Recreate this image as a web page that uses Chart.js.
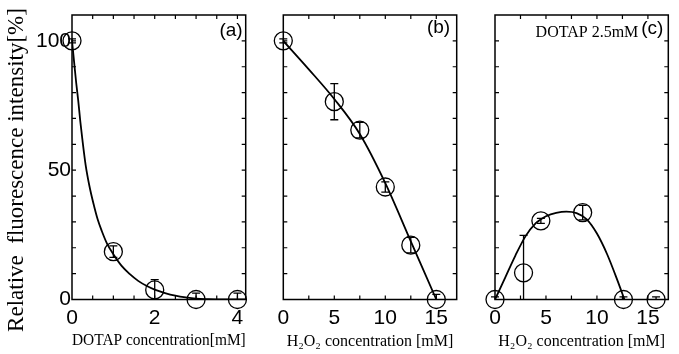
<!DOCTYPE html>
<html>
<head>
<meta charset="utf-8">
<script src="https://cdn.jsdelivr.net/npm/chart.js@4.4.1/dist/chart.umd.min.js"></script>
<style>
  html, body { margin: 0; padding: 0; background: #fff; }
  #wrap { position: relative; width: 679px; height: 354px; overflow: hidden; }
  canvas { position: absolute; top: 0; }
</style>
</head>
<body>
<div id="wrap">
  <canvas id="chartA" width="250" height="354" style="left:0"></canvas>
  <canvas id="chartB" width="210" height="354" style="left:250px"></canvas>
  <canvas id="chartC" width="219" height="354" style="left:460px"></canvas>
</div>
<script>
// (a) DOTAP
const dotapConc = [0, 1, 2, 3, 4];
const dotapIntensity = [100, 18.5, 3.7, 0, 0];
const dotapError = [0.8, 2.2, 4, 2.5, 2.5];
const dotapFitX = [0, 0.05, 0.1, 0.15, 0.2, 0.25, 0.33, 0.42, 0.52, 0.62, 0.72, 0.85, 1.0, 1.2, 1.4, 1.6, 1.8, 2.0, 2.25, 2.5, 2.75, 3.0, 3.3, 3.6, 4.2];
const dotapFitY = [100, 92, 84, 77, 69, 62, 52, 44, 37, 31, 26.5, 21.5, 17.5, 13, 9.8, 7.2, 5.3, 3.8, 2.5, 1.5, 0.8, 0.3, 0.1, 0, 0];

// (b) H2O2
const h2o2Conc = [0, 5, 7.5, 10, 12.5, 15];
const h2o2Intensity = [100, 76.5, 65.5, 43.5, 21, 0];
const h2o2Error = [0.8, 7, 3, 2, 3, 2];
const h2o2FitX = [0, 2.5, 5, 7.5, 10, 12.5, 15];
const h2o2FitY = [100, 89, 77.5, 64, 45, 22.5, 0];

// (c) H2O2 with DOTAP 2.5mM
const mixConc = [0, 2.8, 4.5, 8.6, 12.6, 15.8];
const mixIntensity = [0, 10.3, 30.4, 33.6, 0, 0];
const mixError = [1, 14.5, 1, 2.8, 1, 1];
const mixFitX = [0, 1, 2, 3, 4, 4.5, 5, 6, 7, 8, 9, 10, 11, 12, 12.7];
const mixFitY = [0, 8.5, 17, 24.5, 29.5, 31, 32.2, 33.5, 34, 33.4, 31, 25.5, 17.5, 7.5, 0];

const yTicks = [0, 50, 100];
const yTitle = "Relative  fluorescence intensity[%]";

const SANS = "'Liberation Sans', Arial, sans-serif";
const SERIF = "'Liberation Serif', 'Times New Roman', serif";

const toPoints = (xs, ys) => xs.map((x, i) => ({ x: x, y: ys[i] }));

// box, inward ticks, error bars, corner texts
const framePlugin = {
  id: "frame",
  afterDatasetsDraw(chart, args, opts) {
    const ctx = chart.ctx;
    const area = chart.chartArea;
    const xs = chart.scales.x, ys = chart.scales.y;
    ctx.save();
    ctx.strokeStyle = "#000";
    ctx.fillStyle = "#000";

    // error bars
    ctx.lineWidth = 1.3;
    chart.data.datasets.forEach((ds, i) => {
      if (!ds.errors) return;
      const meta = chart.getDatasetMeta(i);
      meta.data.forEach((pt, j) => {
        const v = ds.data[j].y, e = ds.errors[j];
        const top = ys.getPixelForValue(v + e);
        let bot = ys.getPixelForValue(v - e);
        const clipped = bot > area.bottom;
        if (clipped) bot = area.bottom;
        ctx.beginPath();
        ctx.moveTo(pt.x, top); ctx.lineTo(pt.x, bot);
        ctx.moveTo(pt.x - 4, top); ctx.lineTo(pt.x + 4, top);
        if (!clipped) { ctx.moveTo(pt.x - 4, bot); ctx.lineTo(pt.x + 4, bot); }
        ctx.stroke();
      });
    });

    // frame
    ctx.lineWidth = 1.5;
    ctx.strokeRect(area.left, area.top, area.right - area.left, area.bottom - area.top);

    // inward ticks
    ctx.lineWidth = 1.2;
    ctx.beginPath();
    xs.ticks.forEach(t => {
      const px = xs.getPixelForValue(t.value);
      if (px <= area.left + 1 || px >= area.right - 1) return;
      ctx.moveTo(px, area.bottom); ctx.lineTo(px, area.bottom - 4);
      ctx.moveTo(px, area.top); ctx.lineTo(px, area.top + 4);
    });
    ys.ticks.forEach(t => {
      const py = ys.getPixelForValue(t.value);
      if (py >= area.bottom - 1 || py <= area.top + 1) return;
      ctx.moveTo(area.left, py); ctx.lineTo(area.left + 4, py);
      ctx.moveTo(area.right, py); ctx.lineTo(area.right - 4, py);
    });
    ctx.stroke();

    // corner texts
    (opts.texts || []).forEach(t => {
      ctx.font = t.font;
      ctx.textAlign = "right";
      ctx.textBaseline = "alphabetic";
      ctx.fillText(t.text, area.right - t.dx, t.y);
    });

    // rotated y title
    if (opts.yTitle) {
      ctx.translate(23, 170);
      ctx.rotate(-Math.PI / 2);
      ctx.font = "23px " + SERIF;
      ctx.textAlign = "center";
      ctx.textBaseline = "alphabetic";
      ctx.fillText(opts.yTitle, 0, 0);
    }
    ctx.restore();
  }
};

function makePanel(id, cfg) {
  return new Chart(document.getElementById(id), {
    type: "scatter",
    data: {
      datasets: [
        {
          data: toPoints(cfg.fitX, cfg.fitY),
          showLine: true,
          borderColor: "#000",
          borderWidth: 1.8,
          pointRadius: 0,
          cubicInterpolationMode: "monotone"
        },
        {
          data: toPoints(cfg.x, cfg.y),
          errors: cfg.err,
          showLine: false,
          pointStyle: "circle",
          pointRadius: 9,
          pointBorderWidth: 1.3,
          pointBackgroundColor: "rgba(0,0,0,0)",
          pointBorderColor: "#000",
          clip: false
        }
      ]
    },
    options: {
      responsive: false,
      animation: false,
      layout: {
        autoPadding: false,
        padding: { top: 15, right: cfg.padRight, left: 0, bottom: 0 }
      },
      plugins: {
        legend: { display: false },
        tooltip: { enabled: false },
        frame: { texts: cfg.texts, yTitle: cfg.yTitle }
      },
      scales: {
        x: {
          type: "linear",
          min: 0,
          max: cfg.xMax,
          afterFit: s => { s.height = 54.5; s.paddingLeft = 0; s.paddingRight = 0; },
          grid: { display: false, drawTicks: false },
          border: { display: false },
          ticks: {
            stepSize: cfg.xStep,
            includeBounds: false,
            autoSkip: false,
            maxRotation: 0,
            padding: 6,
            color: "#000",
            font: { family: SANS, size: 21 },
            callback: v => (v % cfg.xLabelEvery === 0 ? String(v) : "")
          },
          title: {
            display: true,
            text: cfg.xTitle,
            color: "#000",
            font: { family: SERIF, size: cfg.xTitleSize },
            padding: { top: 0, bottom: 3 }
          }
        },
        y: {
          min: 0,
          max: 110,
          afterFit: s => { s.width = cfg.yWidth; s.paddingTop = 0; s.paddingBottom = 0; },
          grid: { display: false, drawTicks: false },
          border: { display: false },
          ticks: {
            stepSize: 10,
            includeBounds: false,
            autoSkip: false,
            display: cfg.showY,
            padding: 1,
            color: "#000",
            font: { family: SANS, size: 21 },
            callback: v => (yTicks.includes(v) ? String(v) : "")
          }
        }
      }
    },
    plugins: [framePlugin]
  });
}

makePanel("chartA", {
  x: dotapConc, y: dotapIntensity, err: dotapError,
  fitX: dotapFitX, fitY: dotapFitY,
  xMax: 4.2, xStep: 0.5, xLabelEvery: 2,
  xTitle: "DOTAP concentration[mM]", xTitleSize: 17,
  yWidth: 72, padRight: 4.3, showY: true, yTitle: yTitle,
  texts: [{ text: "(a)", font: "19px " + SANS, dx: 3, y: 36 }]
});

makePanel("chartB", {
  x: h2o2Conc, y: h2o2Intensity, err: h2o2Error,
  fitX: h2o2FitX, fitY: h2o2FitY,
  xMax: 17, xStep: 2.5, xLabelEvery: 5,
  xTitle: "H\u2082O\u2082 concentration [mM]", xTitleSize: 16,
  yWidth: 33.3, padRight: 3.3, showY: false,
  texts: [{ text: "(b)", font: "19px " + SANS, dx: 6.5, y: 33 }]
});

makePanel("chartC", {
  x: mixConc, y: mixIntensity, err: mixError,
  fitX: mixFitX, fitY: mixFitY,
  xMax: 17, xStep: 2.5, xLabelEvery: 5,
  xTitle: "H\u2082O\u2082 concentration [mM]", xTitleSize: 16,
  yWidth: 35, padRight: 10.7, showY: false,
  texts: [
    { text: "(c)", font: "19px " + SANS, dx: 5, y: 34 },
    { text: "DOTAP 2.5mM", font: "16px " + SERIF, dx: 30, y: 37 }
  ]
});
</script>
</body>
</html>
